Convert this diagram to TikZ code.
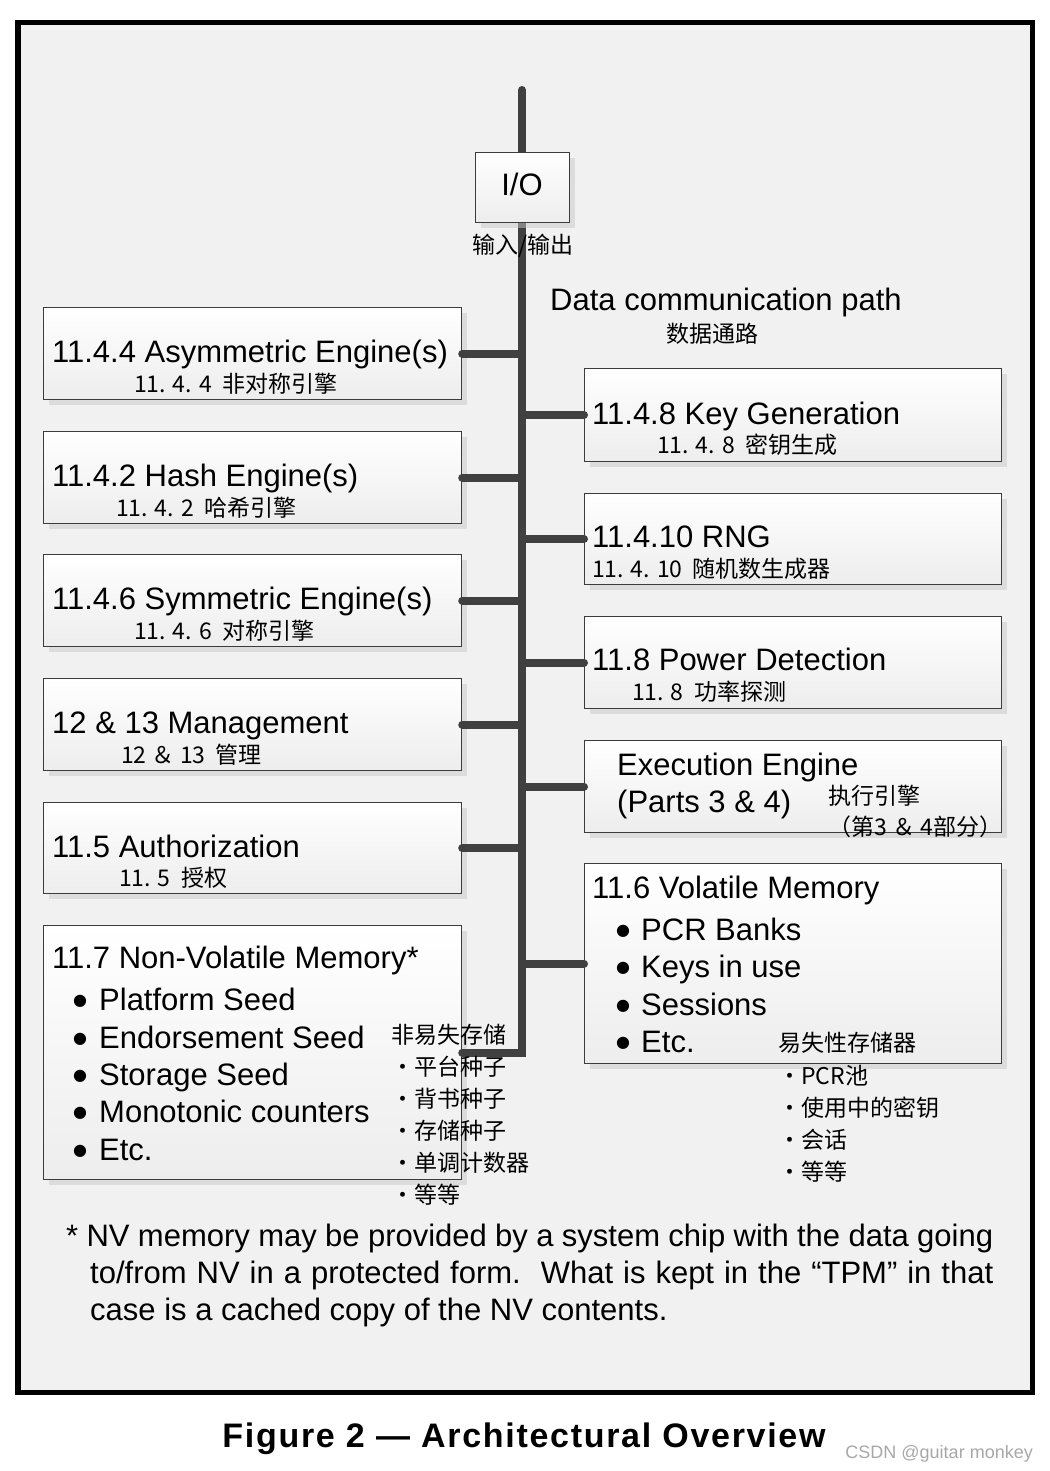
\documentclass[tikz,border=0pt]{standalone}
\usepackage{fontspec}
\setmainfont{Liberation Sans}
\newfontfamily\cjk{Noto Sans CJK SC}
\newfontfamily\dejavu{DejaVu Sans}
\newfontfamily\capfont[LetterSpace=5]{Liberation Sans}
\usetikzlibrary{shadows}
\definecolor{bgc}{HTML}{F1F1F1}
\definecolor{boxline}{HTML}{3C3C3C}
\definecolor{boxbot}{HTML}{EDEDED}
\definecolor{shadowc}{HTML}{C8C8C8}
\definecolor{busc}{HTML}{404040}
\definecolor{wmark}{HTML}{A8A8A8}
\newcommand\bigsz{\fontsize{31}{37}\selectfont}
\newcommand\zhsz{\cjk\fontsize{23}{27}\selectfont}
\tikzset{
  box/.style={draw=boxline, line width=1.2pt, top color=white, bottom color=boxbot,
    drop shadow={shadow xshift=5.5pt, shadow yshift=-5.5pt, fill=shadowc, opacity=.5},
    anchor=north west, inner sep=0pt},
  wire/.style={line width=8pt, draw=busc, line cap=round},
  mtxt/.style={anchor=base west, inner sep=0pt, font=\bigsz},
  ztxt/.style={anchor=base west, inner sep=0pt, font=\zhsz},
  dot/.style={anchor=base west, inner sep=0pt, font=\dejavu\fontsize{16}{18}\selectfont, yshift=4.5pt},
}
\begin{document}
\begin{tikzpicture}[x=1pt,y=-1pt]
\useasboundingbox (0,0) rectangle (1049,1471);
\fill[white] (0,0) rectangle (1049,1471);
\fill[bgc] (17.75,22.75) rectangle (1032.25,1392.25);
\draw[line width=5.5pt] (17.75,22.75) rectangle (1032.25,1392.25);

% left boxes
\node[box, minimum width=418pt, minimum height=92pt] (asym) at (43,307) {};
\node[box, minimum width=418pt, minimum height=92pt] (hash) at (43,431) {};
\node[box, minimum width=418pt, minimum height=92pt] (sym) at (43,554) {};
\node[box, minimum width=418pt, minimum height=92pt] (mgmt) at (43,678) {};
\node[box, minimum width=418pt, minimum height=91pt] (auth) at (43,802) {};
\node[box, minimum width=418pt, minimum height=254pt] (nv) at (43,925) {};
% right boxes
\node[box, minimum width=417pt, minimum height=93pt] (keygen) at (584,368) {};
\node[box, minimum width=417pt, minimum height=91pt] (rng) at (584,493) {};
\node[box, minimum width=417pt, minimum height=92pt] (power) at (584,616) {};
\node[box, minimum width=417pt, minimum height=92pt] (exec) at (584,740) {};
\node[box, minimum width=417pt, minimum height=200pt] (vol) at (584,863) {};

% bus and connectors
\coordinate (bustop) at (522,90);
\draw[wire, line join=miter] (bustop) -- (bustop |- nv.east) -- (nv.east);
\foreach \b in {asym,hash,sym,mgmt,auth}
  \draw[wire] (\b.east) -- (\b.east -| bustop);
\foreach \b in {keygen,rng,power,exec,vol}
  \draw[wire] (\b.west -| bustop) -- (\b.west);

% I/O box
\node[box, minimum width=94pt, minimum height=70pt] (io) at (475,152) {};
\node[anchor=base, inner sep=0pt, font=\bigsz] (iot) at (522,196) {I/O};
\node[anchor=base, inner sep=0pt, font=\zhsz] (iozh) at (523,254) {输入/输出};

\node[mtxt] (dcp) at (550,310) {Data communication path};
\node[ztxt] (dcpzh) at (666,342) {数据通路};

% left box texts
\node[mtxt] (t1) at (52,362) {11.4.4 Asymmetric Engine(s)};
\node[ztxt] (z1) at (134,392) {11. 4. 4~~非对称引擎};
\node[mtxt] (t2) at (52,486) {11.4.2 Hash Engine(s)};
\node[ztxt] (z2) at (116,516) {11. 4. 2~~哈希引擎};
\node[mtxt] (t3) at (52,609) {11.4.6 Symmetric Engine(s)};
\node[ztxt] (z3) at (134,639) {11. 4. 6~~对称引擎};
\node[mtxt] (t4) at (52,733) {12 \& 13 Management};
\node[ztxt] (z4) at (121,763) {12 ＆ 13~~管理};
\node[mtxt] (t5) at (52,857) {11.5 Authorization};
\node[ztxt] (z5) at (119,886) {11. 5~~授权};

\node[mtxt] (t6) at (52,968) {11.7 Non-Volatile Memory*};
\node[dot] (b61) at (73,1010) {●};
\node[mtxt] (t61) at (99,1010) {Platform Seed};
\node[dot] (b62) at (73,1048) {●};
\node[mtxt] (t62) at (99,1048) {Endorsement Seed};
\node[dot] (b63) at (73,1085) {●};
\node[mtxt] (t63) at (99,1085) {Storage Seed};
\node[dot] (b64) at (73,1122) {●};
\node[mtxt] (t64) at (99,1122) {Monotonic counters};
\node[dot] (b65) at (73,1160) {●};
\node[mtxt] (t65) at (99,1160) {Etc.};
\node[ztxt] (z6) at (391,1043) {非易失存储};
\node[ztxt] (z61) at (391,1075) {・平台种子};
\node[ztxt] (z62) at (391,1107) {・背书种子};
\node[ztxt] (z63) at (391,1139) {・存储种子};
\node[ztxt] (z64) at (391,1171) {・单调计数器};
\node[ztxt] (z65) at (391,1203) {・等等};

% right box texts
\node[mtxt] (r1) at (592,424) {11.4.8 Key Generation};
\node[ztxt] (y1) at (657,453) {11. 4. 8~~密钥生成};
\node[mtxt] (r2) at (592,547) {11.4.10 RNG};
\node[ztxt] (y2) at (592,577) {11. 4. 10~~随机数生成器};
\node[mtxt] (r3) at (592,670) {11.8 Power Detection};
\node[ztxt] (y3) at (632,700) {11. 8~~功率探测};
\node[mtxt] (r4) at (617,775) {Execution Engine};
\node[mtxt] (r4b) at (617,812) {(Parts 3 \& 4)};
\node[ztxt] (y4) at (828,804) {执行引擎};
\node[ztxt] (y4b) at (828,835) {（第3 ＆ 4部分）};

\node[mtxt] (r5) at (592,898) {11.6 Volatile Memory};
\node[dot] (c51) at (616,940) {●};
\node[mtxt] (r51) at (641,940) {PCR Banks};
\node[dot] (c52) at (616,977) {●};
\node[mtxt] (r52) at (641,977) {Keys in use};
\node[dot] (c53) at (616,1015) {●};
\node[mtxt] (r53) at (641,1015) {Sessions};
\node[dot] (c54) at (616,1052) {●};
\node[mtxt] (r54) at (641,1052) {Etc.};
\node[ztxt] (y5) at (778,1051) {易失性存储器};
\node[ztxt] (y51) at (778,1084) {・PCR池};
\node[ztxt] (y52) at (778,1116) {・使用中的密钥};
\node[ztxt] (y53) at (778,1148) {・会话};
\node[ztxt] (y54) at (778,1180) {・等等};

% footnote
\node[mtxt] (f1) at (66,1246) {\makebox[927pt][s]{* NV memory may be provided by a system chip with the data going}};
\node[mtxt] (f2) at (90,1283) {\makebox[903pt][s]{to/from NV in a protected form.\ \ What is kept in the “TPM” in that}};
\node[mtxt] (f3) at (90,1320) {case is a cached copy of the NV contents.};

% caption
\node[anchor=base, inner sep=0pt, font=\capfont\bfseries\fontsize{34}{40}\selectfont] (cap) at (524,1447) {Figure 2 — Architectural Overview};
\node[anchor=base east, inner sep=0pt, font=\fontsize{18}{22}\selectfont, text=wmark] (wm) at (1033,1458) {CSDN @guitar monkey};
\end{tikzpicture}
\end{document}
